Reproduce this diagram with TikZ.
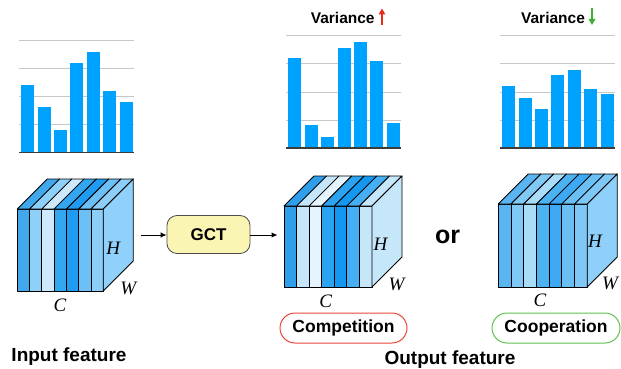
\documentclass[tikz,border=0pt]{standalone}
\usepackage{fontspec}
\usetikzlibrary{arrows.meta}
\newfontfamily\hv{Liberation Sans}
\newfontfamily\tms{Liberation Serif}
\definecolor{barblue}{RGB}{0,162,255}
\definecolor{gridgray}{RGB}{200,200,200}
\definecolor{basegray}{RGB}{60,60,60}
\definecolor{gctfill}{HTML}{FBF5B4}
\definecolor{compred}{HTML}{E8463C}
\definecolor{coopgreen}{HTML}{5EC34F}
\definecolor{upred}{HTML}{E8291C}
\definecolor{downgreen}{HTML}{3AB22B}
% cube 1
\definecolor{pa1}{HTML}{42A8EC}\definecolor{pa2}{HTML}{8FD0F8}\definecolor{pa3}{HTML}{CDE9FB}
\definecolor{pa4}{HTML}{33A6F0}\definecolor{pa5}{HTML}{1F9CF2}\definecolor{pa6}{HTML}{6CC0F5}
\definecolor{pa7}{HTML}{8CCEF8}\definecolor{paR}{HTML}{8FD1FA}
% cube 2
\definecolor{pb1}{HTML}{2F9FEC}\definecolor{pb2}{HTML}{C5E5FA}\definecolor{pb3}{HTML}{E5F4FD}
\definecolor{pb4}{HTML}{2BA3F0}\definecolor{pb5}{HTML}{1497F0}\definecolor{pb6}{HTML}{46AEF2}
\definecolor{pb7}{HTML}{C6E6FA}\definecolor{pbR}{HTML}{C6E6FA}
% cube 3
\definecolor{pc1}{HTML}{58B5F1}\definecolor{pc2}{HTML}{80C9F6}\definecolor{pc3}{HTML}{A9DCF9}
\definecolor{pc4}{HTML}{4DB2F2}\definecolor{pc5}{HTML}{3CA9F2}\definecolor{pc6}{HTML}{69BFF4}
\definecolor{pc7}{HTML}{7FC8F6}\definecolor{pcR}{HTML}{8ED0FA}
\tikzset{
  cubeline/.style={draw=black, line width=0.8pt, line join=round},
  gridline/.style={draw=gridgray, line width=1pt},
  baseline/.style={draw=basegray, line width=1.6pt},
  barstyle/.style={fill=barblue, draw=none},
  dimlabel/.style={inner sep=0pt, font=\tms\itshape\fontsize{19}{19}\selectfont},
  boldtext/.style={inner sep=0pt, font=\hv\bfseries\fontsize{#1}{#1}\selectfont},
  conn/.style={draw=black, line width=1pt, -{Latex[length=6pt,width=5.5pt]}},
  varr/.style={line width=1.6pt, -{Triangle[length=6pt,width=6.5pt]}},
  pill/.style={draw=#1, line width=1pt, fill=white, rounded corners=15pt,
    minimum width=127pt, minimum height=30pt, inner sep=0pt,
    font=\hv\bfseries\fontsize{17.5}{17.5}\selectfont}
}
\newcommand\mycube[6]{% #1 x0, #2 width, #3 top, #4 bottom, #5 prefix, #6 depth
  \foreach \i in {1,...,7} {
    \pgfmathsetmacro\xa{#1+(\i-1)*#2/7}
    \pgfmathsetmacro\xb{#1+\i*#2/7}
    \draw[cubeline, fill=#5\i] (\xa,#4) rectangle (\xb,#3);
    \draw[cubeline, fill=#5\i] (\xa,#3) -- (\xb,#3) -- (\xb+#6,#3-#6) -- (\xa+#6,#3-#6) -- cycle;
  }
  \draw[cubeline, fill=#5R] (#1+#2,#3) -- (#1+#2+#6,#3-#6) -- (#1+#2+#6,#4-#6) -- (#1+#2,#4) -- cycle;
}
\newcommand\mychart[4]{% #1 xleft, #2 xright, #3 top grid y, #4 list of bar left/top
  \foreach \k in {0,1,2,3} {
    \draw[gridline] (#1,#3+\k*28) -- (#2,#3+\k*28);
  }
  \foreach \bx/\by in {#4} {
    \fill[barstyle] (\bx,\by) rectangle (\bx+12.5,#3+112);
  }
  \draw[baseline] (#1,#3+112) -- (#2,#3+112);
}
\begin{document}
\begin{tikzpicture}[x=1pt,y=-1pt]
\useasboundingbox (0,0) rectangle (621,369);
% charts
\mychart{19}{134}{40.5}{21/85,38/107,54/130,70/63,87/52,103/91,120/102}
\mychart{286}{401}{36}{288/58,305/125,321/137,338/48,354/42,370/61,387/123}
\mychart{500}{615}{36}{502/86,519/98,535/109,551/75,568/70,584/89,601/94}
% variance labels
\node[boldtext=15.5, anchor=base] (var1) at (342.7,24) {Variance};
\coordinate (up1) at (382,25);
\coordinate (up2) at (382,8.5);
\draw[varr, upred] (up1) -- (up2);
\node[boldtext=15.5, anchor=base] (var2) at (553,24) {Variance};
\coordinate (dn1) at (592,8);
\coordinate (dn2) at (592,25);
\draw[varr, downgreen] (dn1) -- (dn2);
% cubes
\mycube{17.3}{86}{209}{291}{pa}{30}
\mycube{284}{88}{206}{287}{pb}{30}
\mycube{498.3}{89}{204}{287}{pc}{30}
% dimension labels
\node[dimlabel] (h1) at (113.3,248.3) {H};
\node[dimlabel] (w1) at (128.3,288.3) {W};
\node[dimlabel] (c1) at (60,305) {C};
\node[dimlabel] (h2) at (380.5,244) {H};
\node[dimlabel] (w2) at (396.5,284.3) {W};
\node[dimlabel] (c2) at (325.7,301.7) {C};
\node[dimlabel] (h3) at (595,241.7) {H};
\node[dimlabel] (w3) at (610,283.3) {W};
\node[dimlabel] (c3) at (540,300.7) {C};
% GCT
\node[draw=black!70, line width=0.8pt, fill=gctfill, rounded corners=10pt,
  minimum width=83pt, minimum height=38pt, inner sep=0pt,
  font=\hv\bfseries\fontsize{17}{17}\selectfont] (gct) at (208.5,234.5) {GCT};
\coordinate (in1) at (141,235);
\coordinate (out2) at (277.5,235);
\draw[conn] (in1) -- (gct.west |- in1);
\draw[conn] (gct.east |- out2) -- (out2);
% or
\node[boldtext=25, anchor=base] (or) at (447.5,243) {or};
% pills
\node[pill=compred] (comp) at (343.5,328) {Competition};
\node[pill=coopgreen, minimum width=128pt] (coop) at (556,328) {Cooperation};
% captions
\node[boldtext=19, anchor=base] (inf) at (69,361) {Input feature};
\node[boldtext=19, anchor=base] (outf) at (450,364) {Output feature};
\end{tikzpicture}
\end{document}
